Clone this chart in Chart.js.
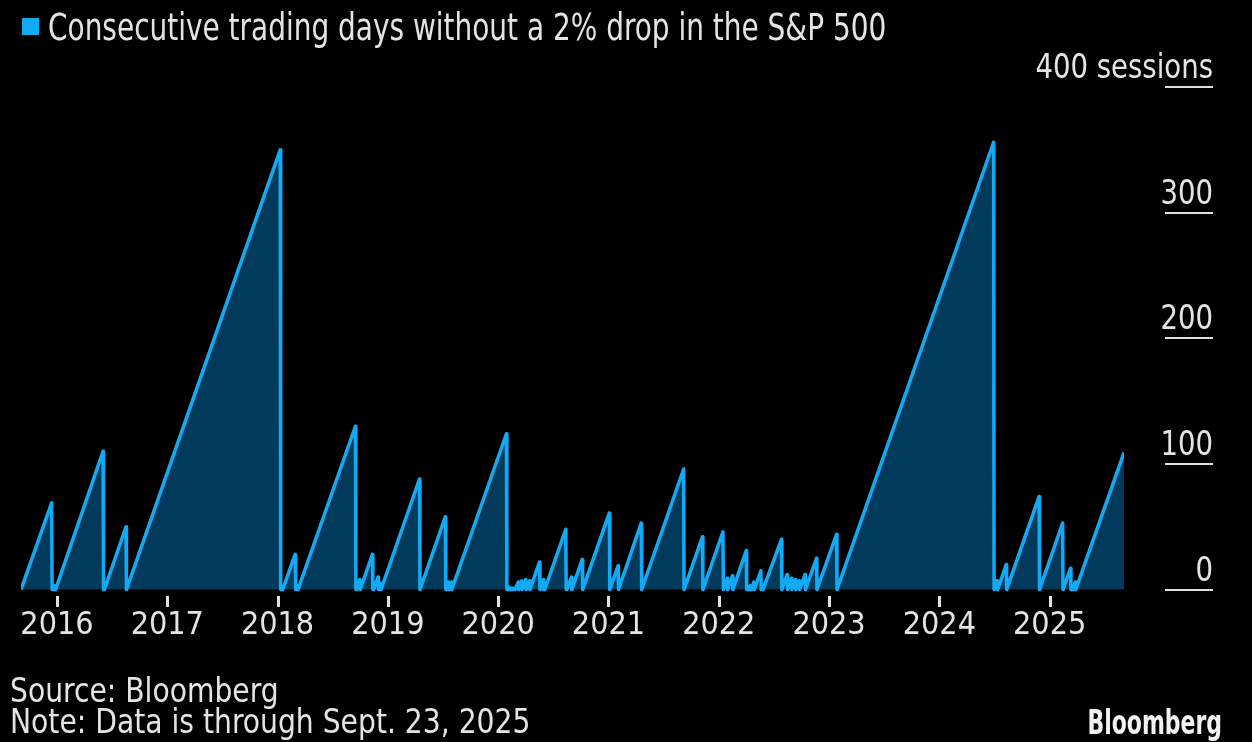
<!DOCTYPE html>
<html>
<head>
<meta charset="utf-8">
<title>Consecutive trading days without a 2% drop in the S&amp;P 500</title>
<script src="https://cdn.jsdelivr.net/npm/chart.js@4.4.1/dist/chart.umd.min.js"></script>
<style>
  html, body { margin: 0; padding: 0; background: #000; }
  #wrap { position: relative; width: 1252px; height: 742px; }
</style>
</head>
<body>
<div id="wrap"><canvas id="chart" width="1252" height="742"></canvas></div>
<script>
// Series name shown in the key
const seriesLabel = 'Consecutive trading days without a 2% drop in the S&P 500';

// Sawtooth vertices: position on the time axis (decimal year) and the running
// count of sessions since the last 2% drop at that point.
const sessionDates = [
  2015.674, 2015.952, 2015.956, 2015.976, 2015.979, 2015.984, 2015.987,
  2016.418, 2016.422, 2016.430, 2016.626, 2016.630,
  2018.024, 2018.028, 2018.035, 2018.044, 2018.047, 2018.159, 2018.162, 2018.166,
  2018.181, 2018.185, 2018.706, 2018.710, 2018.714, 2018.745, 2018.749,
  2018.860, 2018.864, 2018.868, 2018.871, 2018.911, 2018.915, 2018.935, 2018.938,
  2019.287, 2019.291, 2019.521, 2019.525, 2019.548, 2019.552, 2019.576, 2019.579,
  2020.075, 2020.079, 2020.083, 2020.086, 2020.091, 2020.094, 2020.098, 2020.102,
  2020.106, 2020.110, 2020.114, 2020.118, 2020.121, 2020.126, 2020.130, 2020.133,
  2020.138, 2020.141, 2020.145, 2020.150, 2020.153, 2020.157, 2020.183, 2020.187,
  2020.215, 2020.218, 2020.250, 2020.254, 2020.285, 2020.288, 2020.375, 2020.379,
  2020.410, 2020.413, 2020.418, 2020.422, 2020.613, 2020.617, 2020.620, 2020.624,
  2020.664, 2020.667, 2020.762, 2020.766,
  2021.008, 2021.012, 2021.087, 2021.091, 2021.297, 2021.301, 2021.682, 2021.685,
  2021.852, 2021.856,
  2022.038, 2022.042, 2022.077, 2022.081, 2022.124, 2022.128, 2022.249, 2022.253,
  2022.257, 2022.260, 2022.268, 2022.272, 2022.284, 2022.287, 2022.291, 2022.295,
  2022.318, 2022.322, 2022.382, 2022.385, 2022.389, 2022.397, 2022.401, 2022.568,
  2022.572, 2022.620, 2022.624, 2022.659, 2022.663, 2022.695, 2022.699, 2022.729,
  2022.733, 2022.782, 2022.786, 2022.887, 2022.890,
  2023.068, 2023.072, 2024.492, 2024.496, 2024.524, 2024.528, 2024.607, 2024.610,
  2024.904, 2024.908, 2025.118, 2025.121, 2025.189, 2025.193, 2025.197, 2025.205,
  2025.209, 2025.232, 2025.236, 2025.674
];
const sessionCounts = [
  0, 69, 0, 3, 0, 1, 0,
  110, 0, 0, 50, 0,
  350, 0, 0, 2, 0, 28, 0, 0,
  3, 0, 130, 0, 0, 8, 0,
  28, 0, 1, 0, 10, 0, 5, 0,
  88, 0, 58, 0, 6, 0, 6, 0,
  124, 0, 0, 1, 0, 1, 2, 0,
  1, 0, 1, 0, 1, 0, 0, 1,
  0, 1, 0, 1, 0, 0, 6, 0,
  7, 0, 8, 0, 7, 0, 22, 0,
  8, 0, 1, 0, 48, 0, 1, 0,
  10, 0, 24, 0,
  61, 0, 19, 0, 53, 0, 96, 0,
  42, 0,
  46, 0, 9, 0, 11, 0, 31, 0,
  1, 0, 2, 0, 3, 0, 1, 0,
  6, 0, 15, 0, 0, 2, 0, 40,
  0, 12, 0, 9, 0, 8, 0, 7,
  0, 12, 0, 25, 0,
  44, 0, 356, 0, 7, 0, 20, 0,
  74, 0, 53, 0, 17, 0, 0, 3,
  0, 6, 0, 109
];

// Axis ticks
const yearTicks = [2016, 2017, 2018, 2019, 2020, 2021, 2022, 2023, 2024, 2025];
const valueTicks = [0, 100, 200, 300, 400];
const valueTickLabels = ['0', '100', '200', '300', '400 sessions'];

// Footer text
const footerLines = ['Source: Bloomberg', 'Note: Data is through Sept. 23, 2025'];
const brandName = 'Bloomberg';

const FONT = '"DejaVu Sans Condensed", "DejaVu Sans", sans-serif';
const TEXT = '#e4e4e4';
const LINE = '#12a9f5';
const AREA = '#023a5b';
const RULE = '#e0e0e0';

// Text squeezed horizontally to get the narrow house lettering.
function squeezedText(ctx, text, x, y, align, sx) {
  ctx.save();
  ctx.translate(x, y);
  ctx.scale(sx, 1);
  ctx.textAlign = align;
  ctx.fillText(text, 0, 0);
  ctx.restore();
}

// Key, year tick marks, right-hand value labels with their short rules, and the footer.
const decor = {
  id: 'decor',
  afterDraw(chart) {
    const { ctx } = chart;
    const xs = chart.scales.x;
    const ys = chart.scales.y;
    const ds = chart.data.datasets[0];
    ctx.save();
    ctx.textBaseline = 'alphabetic';

    // key
    ctx.fillStyle = ds.borderColor;
    ctx.fillRect(22, 18, 17, 17);
    ctx.fillStyle = TEXT;
    ctx.font = `37px ${FONT}`;
    squeezedText(ctx, ds.label, 48, 40, 'left', 0.84);

    // year tick marks a little below the zero line
    const tickTop = Math.round(ys.getPixelForValue(0)) + 6;
    ctx.fillStyle = RULE;
    yearTicks.forEach((v) => {
      const x = Math.round(xs.getPixelForValue(v));
      ctx.fillRect(x - 1, tickTop, 3, 11);
    });

    // value axis: label sitting on a short rule
    ctx.font = `34px ${FONT}`;
    valueTicks.forEach((v, i) => {
      const y = Math.round(ys.getPixelForValue(v));
      ctx.fillStyle = RULE;
      ctx.fillRect(1165, y - 1, 48, 2);
      ctx.fillStyle = TEXT;
      squeezedText(ctx, valueTickLabels[i], 1213, y - 9, 'right', 0.9);
    });

    // footer
    ctx.font = `33px ${FONT}`;
    ctx.fillStyle = TEXT;
    squeezedText(ctx, footerLines[0], 10, 702, 'left', 0.95);
    squeezedText(ctx, footerLines[1], 10, 733, 'left', 0.95);

    ctx.font = `bold 33px ${FONT}`;
    ctx.fillStyle = '#f2f2f2';
    squeezedText(ctx, brandName, 1222, 734, 'right', 0.74);

    ctx.restore();
  }
};

new Chart(document.getElementById('chart'), {
  type: 'line',
  data: {
    datasets: [{
      label: seriesLabel,
      data: sessionDates.map((d, i) => ({ x: d, y: sessionCounts[i] })),
      borderColor: LINE,
      backgroundColor: AREA,
      borderWidth: 3.5,
      borderJoinStyle: 'round',
      fill: 'origin',
      pointRadius: 0,
      tension: 0
    }]
  },
  options: {
    responsive: false,
    animation: false,
    devicePixelRatio: 1,
    layout: { padding: { left: 21, right: 128, top: 87, bottom: 93 } },
    plugins: {
      legend: { display: false },
      tooltip: { enabled: false }
    },
    scales: {
      x: {
        type: 'linear',
        min: sessionDates[0],
        max: sessionDates[sessionDates.length - 1],
        afterBuildTicks: (scale) => { scale.ticks = yearTicks.map(v => ({ value: v })); },
        ticks: {
          color: TEXT,
          font: { family: FONT, size: 32 },
          padding: 4,
          maxRotation: 0,
          autoSkip: false,
          callback: (v) => String(v)
        },
        grid: {
          display: true,
          drawOnChartArea: false,
          drawTicks: true,
          tickLength: 8,
          tickColor: 'rgba(0,0,0,0)'
        },
        border: { display: false }
      },
      y: {
        display: false,
        min: -4,
        max: 400
      }
    }
  },
  plugins: [decor]
});
</script>
</body>
</html>
